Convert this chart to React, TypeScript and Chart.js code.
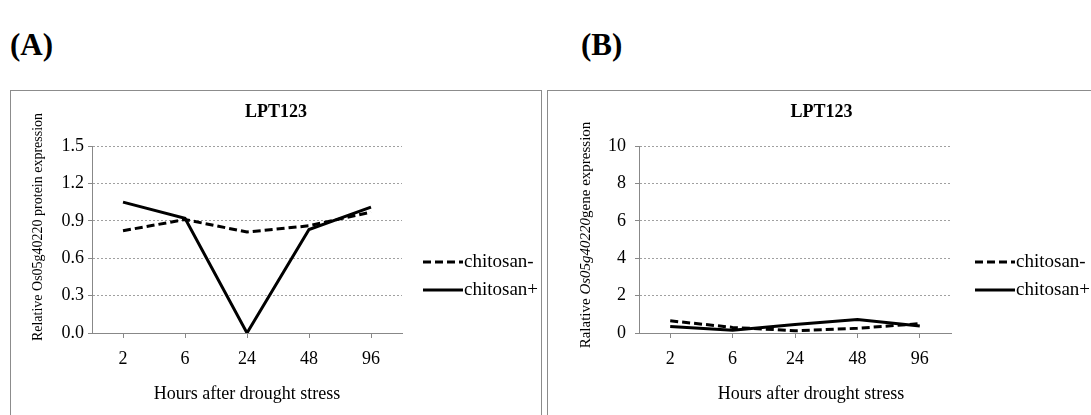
import React, { useEffect, useRef } from "react";
import { Chart, registerables } from "chart.js";

Chart.register(...registerables);

const categories = ["2", "6", "24", "48", "96"];
const seriesNames = ["chitosan-", "chitosan+"];
const proteinMinus = [0.82, 0.91, 0.81, 0.86, 0.97];
const proteinPlus = [1.05, 0.92, 0.0, 0.83, 1.01];
const geneMinus = [0.65, 0.3, 0.12, 0.25, 0.5];
const genePlus = [0.35, 0.15, 0.45, 0.72, 0.38];
const panelTitle = "LPT123";
const xTitle = "Hours after drought stress";
const yTitleA = [{ t: "Relative Os05g40220 protein expression", i: false }];
const yTitleB = [
  { t: "Ralative ", i: false },
  { t: "Os05g40220", i: true },
  { t: "gene expression", i: false },
];

const SERIF = '"Liberation Serif", "Times New Roman", serif';

type Seg = { t: string; i: boolean };
type PanelCfg = {
  w: number;
  h: number;
  yWidth: number;
  padRight: number;
  padTop: number;
  xHeight: number;
  minus: number[];
  plus: number[];
  yMax: number;
  yStep: number;
  decimals: number;
  yTickPad: number;
  titleY: number;
  yTitle: Seg[];
  yTitleX: number;
  yTitleY: number;
  yTitleSize: number;
  xTitleX: number;
  xTitleY: number;
  legendX: number;
  legendLen: number;
  legendY: number[];
};

function Panel({ cfg, left, top }: { cfg: PanelCfg; left: number; top: number }) {
  const ref = useRef<HTMLCanvasElement | null>(null);
  useEffect(() => {
    if (!ref.current) return;
    const decor = {
      id: "decor",
      afterDraw(chart: any) {
        const ctx = chart.ctx as CanvasRenderingContext2D;
        ctx.save();
        ctx.fillStyle = "#000";
        ctx.textBaseline = "middle";
        // title
        ctx.font = `bold 18px ${SERIF}`;
        ctx.textAlign = "center";
        ctx.fillText(panelTitle, cfg.w / 2, cfg.titleY);
        // x title
        ctx.font = `18px ${SERIF}`;
        ctx.fillText(xTitle, cfg.xTitleX, cfg.xTitleY);
        // y title
        ctx.save();
        ctx.translate(cfg.yTitleX, cfg.yTitleY);
        ctx.rotate(-Math.PI / 2);
        ctx.textAlign = "left";
        let total = 0;
        const widths: number[] = [];
        cfg.yTitle.forEach((s) => {
          ctx.font = `${s.i ? "italic " : ""}${cfg.yTitleSize}px ${SERIF}`;
          const wdt = ctx.measureText(s.t).width;
          widths.push(wdt);
          total += wdt;
        });
        let x = -total / 2;
        cfg.yTitle.forEach((s, k) => {
          ctx.font = `${s.i ? "italic " : ""}${cfg.yTitleSize}px ${SERIF}`;
          ctx.fillText(s.t, x, 0);
          x += widths[k];
        });
        ctx.restore();
        // legend
        chart.data.datasets.forEach((ds: any, k: number) => {
          const y = cfg.legendY[k];
          ctx.save();
          ctx.strokeStyle = "#000";
          ctx.lineWidth = 3;
          ctx.setLineDash(ds.borderDash || []);
          ctx.beginPath();
          ctx.moveTo(cfg.legendX, y);
          ctx.lineTo(cfg.legendX + cfg.legendLen, y);
          ctx.stroke();
          ctx.restore();
          ctx.font = `19px ${SERIF}`;
          ctx.textAlign = "left";
          ctx.fillText(ds.label, cfg.legendX + cfg.legendLen + 1, y);
        });
        ctx.restore();
      },
    };
    const chart = new Chart(ref.current, {
      type: "line",
      data: {
        labels: categories,
        datasets: [
          {
            label: seriesNames[0],
            data: cfg.minus,
            borderColor: "#000",
            borderWidth: 3,
            borderDash: [8, 4],
            pointRadius: 0,
            fill: false,
            tension: 0,
          },
          {
            label: seriesNames[1],
            data: cfg.plus,
            borderColor: "#000",
            borderWidth: 3,
            pointRadius: 0,
            fill: false,
            tension: 0,
          },
        ],
      },
      options: {
        responsive: false,
        animation: false,
        devicePixelRatio: 1,
        layout: { padding: { left: 0, right: cfg.padRight, top: cfg.padTop, bottom: 0 } },
        plugins: { legend: { display: false }, title: { display: false }, tooltip: { enabled: false } },
        scales: {
          x: {
            offset: true,
            grid: {
              display: true,
              drawOnChartArea: false,
              drawTicks: true,
              tickLength: 5,
              tickColor: "#888",
              offset: false,
            },
            border: { display: true, color: "#888", width: 1 },
            ticks: { font: { family: SERIF, size: 18 }, color: "#000", padding: 10, maxRotation: 0 },
            afterFit: (s: any) => {
              s.height = cfg.xHeight;
            },
          },
          y: {
            min: 0,
            max: cfg.yMax,
            ticks: {
              stepSize: cfg.yStep,
              callback: (v: any) => Number(v).toFixed(cfg.decimals),
              font: { family: SERIF, size: 18 },
              color: "#000",
              padding: cfg.yTickPad,
            },
            grid: {
              color: "#a0a0a0",
              lineWidth: 1,
              tickColor: "#888",
              tickLength: 4,
              tickBorderDash: [],
            },
            border: { display: true, color: "#888", width: 1, dash: [2, 2] },
            afterFit: (s: any) => {
              s.width = cfg.yWidth;
            },
          },
        },
      },
      plugins: [decor],
    } as any);
    return () => chart.destroy();
  }, []);
  return (
    <div
      style={{
        position: "absolute",
        left,
        top,
        width: cfg.w,
        height: cfg.h,
        border: "1px solid #8c8c8c",
        background: "#fff",
      }}
    >
      <canvas ref={ref} width={cfg.w} height={cfg.h} style={{ display: "block", width: cfg.w, height: cfg.h }} />
    </div>
  );
}

const cfgA: PanelCfg = {
  w: 530,
  h: 330,
  yWidth: 81,
  padRight: 139,
  padTop: 55,
  xHeight: 330 - 242,
  minus: proteinMinus,
  plus: proteinPlus,
  yMax: 1.5,
  yStep: 0.3,
  decimals: 1,
  yTickPad: 4,
  titleY: 21,
  yTitle: yTitleA,
  yTitleX: 27,
  yTitleY: 136,
  yTitleSize: 14,
  xTitleX: 236,
  xTitleY: 303,
  legendX: 412,
  legendLen: 40,
  legendY: [171, 199],
};

const cfgB: PanelCfg = {
  w: 547,
  h: 330,
  yWidth: 91,
  padRight: 144,
  padTop: 55,
  xHeight: 330 - 242,
  minus: geneMinus,
  plus: genePlus,
  yMax: 10,
  yStep: 2,
  decimals: 0,
  yTickPad: 9,
  titleY: 21,
  yTitle: yTitleB,
  yTitleX: 38,
  yTitleY: 144,
  yTitleSize: 15,
  xTitleX: 263,
  xTitleY: 303,
  legendX: 427,
  legendLen: 40,
  legendY: [171, 199],
};

export default function App() {
  useEffect(() => {
    document.body.style.overflow = "hidden";
  }, []);
  const labelStyle: React.CSSProperties = {
    position: "absolute",
    fontFamily: SERIF,
    fontWeight: "bold",
    fontSize: 31,
    lineHeight: "31px",
    color: "#000",
  };
  return (
    <div
      style={{
        position: "fixed",
        left: 0,
        top: 0,
        width: 1091,
        height: 415,
        overflow: "hidden",
        background: "#fff",
      }}
    >
      <div style={{ ...labelStyle, left: 10, top: 29 }}>(A)</div>
      <div style={{ ...labelStyle, left: 581, top: 29 }}>(B)</div>
      <Panel cfg={cfgA} left={10} top={90} />
      <Panel cfg={cfgB} left={547} top={90} />
    </div>
  );
}
